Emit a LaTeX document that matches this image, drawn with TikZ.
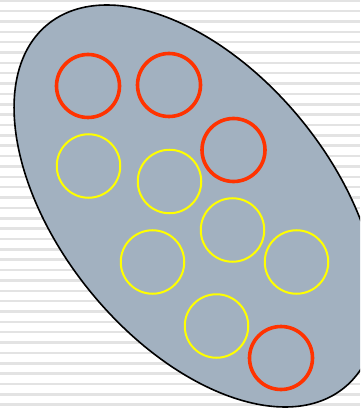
\documentclass[tikz,border=0pt]{standalone}
\usepackage{xcolor}
\usepackage{tikz}
\usetikzlibrary{shapes.geometric}
\definecolor{blobfill}{HTML}{A2B1C0}
\definecolor{ringred}{HTML}{FF3300}
\definecolor{ringyellow}{HTML}{FFFF00}
\definecolor{stripegray}{HTML}{E3E3E3}
\tikzset{
  stripeline/.style={draw=stripegray, line width=2.5pt},
  blobshape/.style={ellipse, draw=black, fill=blobfill, line width=1.6pt, inner sep=0pt},
  redring/.style={circle, draw=ringred, line width=3.6pt, minimum size=63pt, inner sep=0pt},
  yellowring/.style={circle, draw=ringyellow, line width=2pt, minimum size=63.5pt, inner sep=0pt}
}
\begin{document}
\begin{tikzpicture}[x=1pt, y=-1pt]
  \useasboundingbox (0,0) rectangle (360,411);
  \clip (0,0) rectangle (360,411);
  % striped background
  \foreach \i in {0,...,39}
    \draw[stripeline] (0,0.7+10.36*\i) -- (360,0.7+10.36*\i);
  % the set
  \node[blobshape, minimum width=469pt, minimum height=272pt, rotate=-50.75] (blob) at (196,206) {};
  % red members
  \node[redring] (r1) at (88,86) {};
  \node[redring] (r2) at (169,85) {};
  \node[redring] (r3) at (233.5,150) {};
  \node[redring] (r4) at (281,358) {};
  % yellow members
  \node[yellowring] (y1) at (88.5,166) {};
  \node[yellowring] (y2) at (169.5,181.5) {};
  \node[yellowring] (y3) at (232.5,230) {};
  \node[yellowring] (y4) at (152.5,262) {};
  \node[yellowring] (y5) at (296.5,262) {};
  \node[yellowring] (y6) at (216.5,326) {};
\end{tikzpicture}
\end{document}
